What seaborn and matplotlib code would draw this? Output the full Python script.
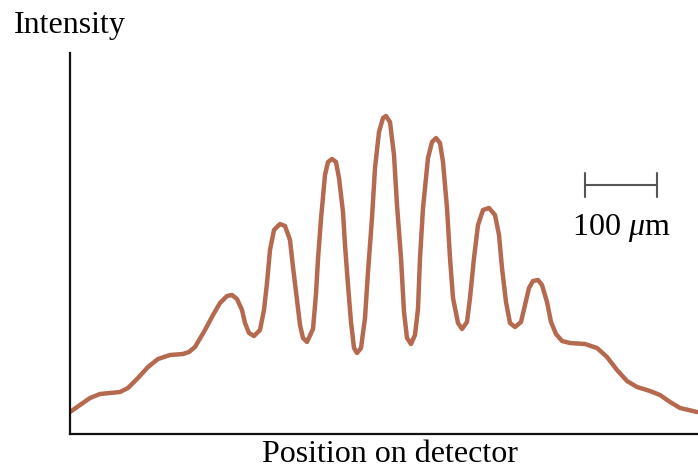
import matplotlib
matplotlib.use("Agg")
import matplotlib.pyplot as plt
import seaborn as sns
import pandas as pd

# Interference pattern (arbitrary units)
position = [0, 10, 20, 30, 40, 50, 58, 68, 78, 88, 100, 113, 119, 125, 135,
            143, 150, 157, 162, 167, 172, 175, 179, 184, 190, 194, 197, 200,
            204, 210, 215, 220, 223, 227, 230, 233, 237, 243, 246, 248, 251,
            255, 258, 262, 266, 269, 273, 275, 278, 281, 284, 287, 291, 295,
            298, 302, 305, 309, 313, 316, 320, 324, 327, 331, 334, 337, 341,
            345, 348, 350, 353, 358, 362, 366, 370, 373, 377, 380, 383, 388,
            392, 397, 400, 404, 408, 413, 419, 425, 429, 432, 436, 440, 445,
            451, 455, 459, 463, 468, 472, 477, 481, 486, 492, 500, 515, 527,
            537, 547, 557, 567, 580, 590, 600, 610, 627]
intensity = [22, 29, 36, 40, 41, 42, 46, 56, 67, 75, 79, 80, 82, 87, 104,
             119, 131, 138, 139, 135, 124, 111, 101, 98, 104, 124, 151, 184,
             204, 210, 208, 194, 167, 134, 109, 96, 92, 105, 140, 175, 215,
             259, 272, 275, 272, 256, 222, 189, 149, 112, 86, 81, 86, 116,
             162, 216, 266, 302, 316, 318, 312, 279, 229, 176, 122, 96, 90,
             99, 125, 176, 226, 276, 292, 296, 291, 272, 226, 176, 136, 111,
             105, 112, 136, 176, 209, 224, 226, 219, 199, 166, 132, 111, 107,
             112, 129, 146, 153, 154, 149, 132, 112, 100, 93, 91, 90, 86,
             77, 64, 53, 47, 43, 39, 32, 26, 22]

# scale bar (100 um) in the same units
bar_start, bar_end, bar_level = 515, 587, 249
bar_label = "100 $\\mu$m"

df = pd.DataFrame({"position": position, "intensity": intensity})

sns.set_style("white")
plt.rcParams["font.family"] = ["Liberation Serif", "DejaVu Serif"]
plt.rcParams["mathtext.fontset"] = "custom"
plt.rcParams["mathtext.rm"] = "Liberation Serif"
plt.rcParams["mathtext.it"] = "Liberation Serif:italic"
plt.rcParams["text.color"] = "black"

fig = plt.figure(figsize=(6.98, 4.68), dpi=100)
ax = fig.add_axes([70 / 698, 1 - 434 / 468, 628 / 698, 381 / 468])

sns.lineplot(data=df, x="position", y="intensity", ax=ax, color="#b5694f",
             linewidth=3.2, estimator=None, sort=False)
ax.lines[0].set_solid_joinstyle("round")
ax.lines[0].set_solid_capstyle("round")

ax.set_xlim(0, 628)
ax.set_ylim(0, 381)
ax.set_xticks([])
ax.set_yticks([])
ax.set_xlabel("")
ax.set_ylabel("")
for side in ["top", "right"]:
    ax.spines[side].set_visible(False)
for side in ["left", "bottom"]:
    ax.spines[side].set_linewidth(1.6)
    ax.spines[side].set_color("#111111")

# scale bar
ax.plot([bar_start, bar_end], [bar_level, bar_level], color="#555555", lw=1.5)
for xb in [bar_start, bar_end]:
    ax.plot([xb, xb], [bar_level - 12, bar_level + 12], color="#555555", lw=1.5)
ax.text((bar_start + bar_end) / 2, bar_level - 50, bar_label, ha="center",
        va="baseline", fontsize=23)

fig.text(14 / 698, 1 - 33 / 468, "Intensity", ha="left", va="baseline", fontsize=23)
fig.text(390 / 698, 1 - 462 / 468, "Position on detector", ha="center",
         va="baseline", fontsize=23)

fig.savefig("out.png", dpi=100)
